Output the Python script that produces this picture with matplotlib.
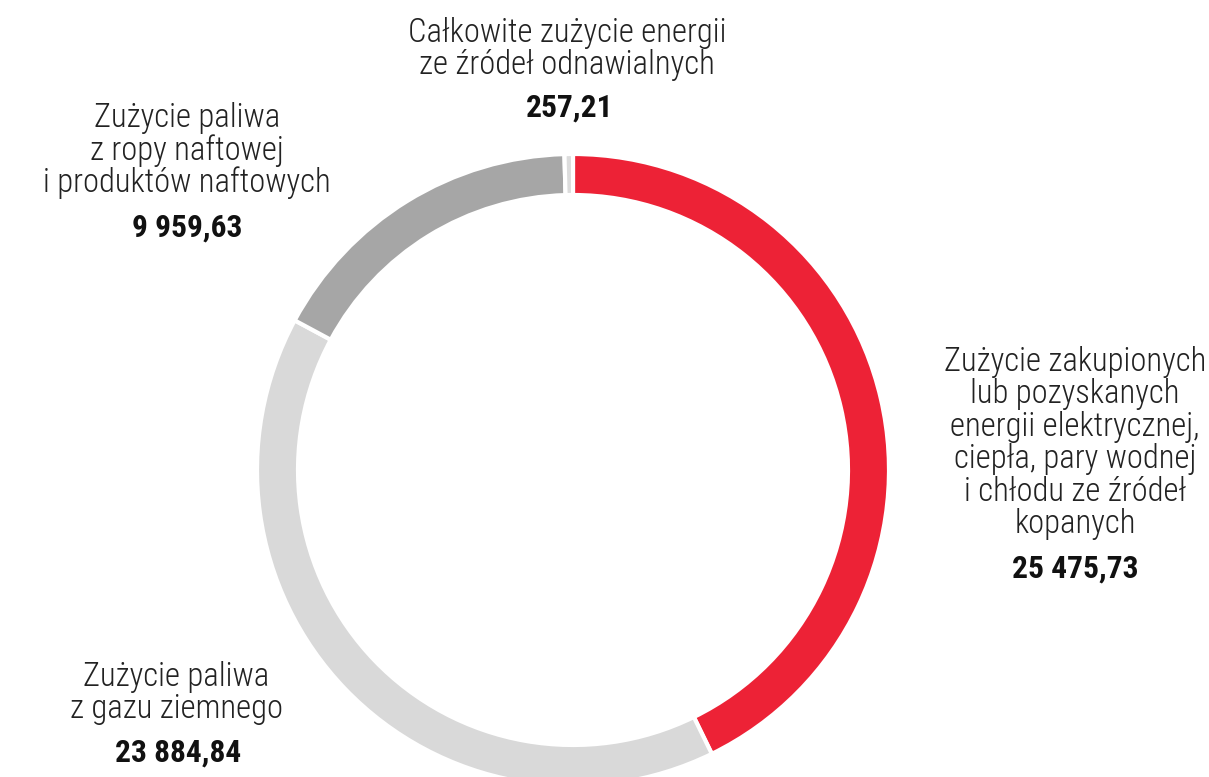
import matplotlib
matplotlib.use("Agg")
import matplotlib.pyplot as plt

# Data
labels = [
    "Zużycie zakupionych\nlub pozyskanych\nenergii elektrycznej,\nciepła, pary wodnej\ni chłodu ze źródeł\nkopanych",
    "Zużycie paliwa\nz gazu ziemnego",
    "Zużycie paliwa\nz ropy naftowej\ni produktów naftowych",
    "Całkowite zużycie energii\nze źródeł odnawialnych",
]
values = [25475.73, 23884.84, 9959.63, 257.21]
value_labels = ["25 475,73", "23 884,84", "9 959,63", "257,21"]
colors = ["#ED2236", "#D9D9D9", "#A6A6A6", "#DCDCDC"]

W, H = 1209, 777
fig = plt.figure(figsize=(W / 100, H / 100), dpi=100)
ax = fig.add_axes([0, 0, 1, 1])

cx, cy, R = 573, H - 470, 316
ax.pie(values, colors=colors, startangle=90, counterclock=False,
       center=(cx, cy), radius=R, frame=True,
       wedgeprops=dict(width=41, edgecolor="white", linewidth=3))
ax.set_xlim(0, W)
ax.set_ylim(0, H)
ax.set_aspect("equal")
ax.axis("off")

fam = ["Roboto Condensed", "Roboto", "DejaVu Sans"]
# label blocks: (center x, first line y, line step, value x, value y) in pixel coords from top
positions = [
    (1075, 362, 32.4, 1075, 569),
    (176, 677, 32.4, 178, 753),
    (187, 118, 32.4, 187, 228),
    (567, 33, 32.4, 570, 108),
]
for lab, vl, (x, y0, step, xv, yv) in zip(labels, value_labels, positions):
    for i, line in enumerate(lab.split("\n")):
        ax.text(x, H - (y0 + i * step), line, ha="center", va="center",
                fontsize=23.5, fontweight="light", family=fam, color="#222222")
    ax.text(xv, H - yv, vl, ha="center", va="center", fontsize=22.7,
            fontweight="bold", family=fam, color="#111111")

fig.savefig("out.png", dpi=100, facecolor="white")
